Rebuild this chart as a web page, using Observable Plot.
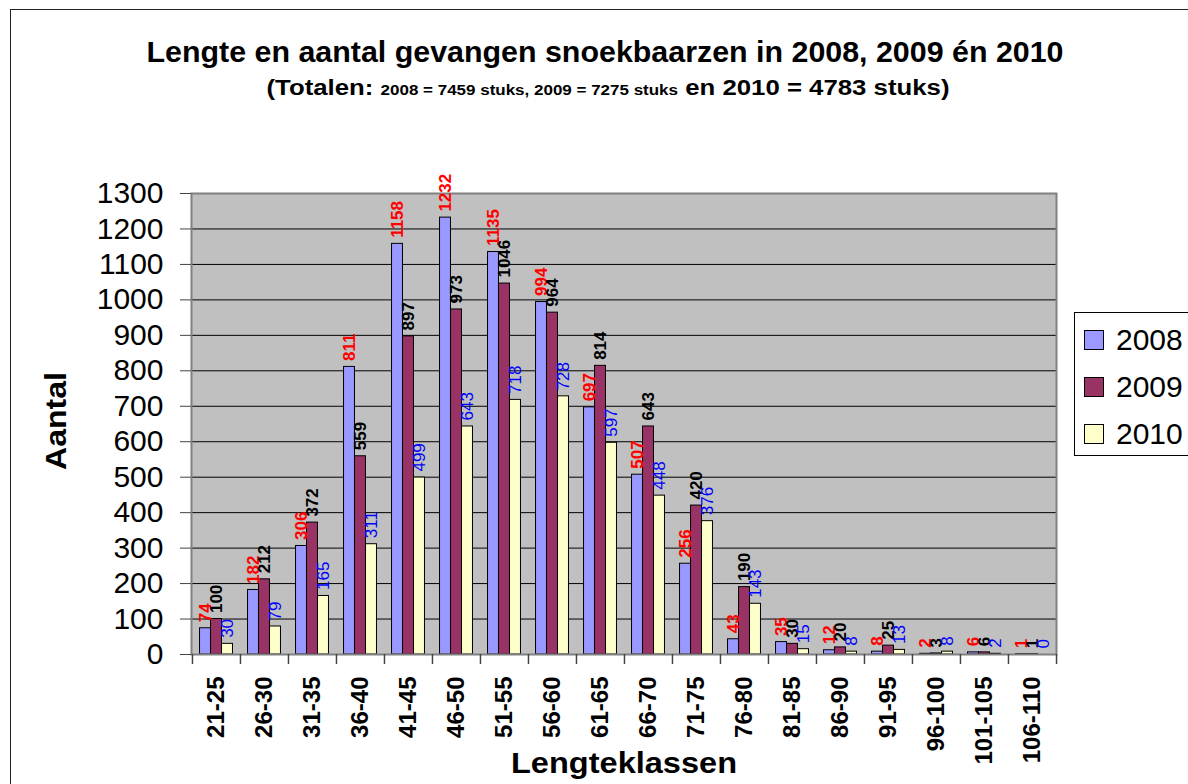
<!DOCTYPE html>
<html><head><meta charset="utf-8">
<script src="https://cdn.jsdelivr.net/npm/d3@7"></script>
<script src="https://cdn.jsdelivr.net/npm/@observablehq/plot@0.6"></script>
<style>
body{margin:0;background:#fff;font-family:"Liberation Sans",Arial,sans-serif;}
#wrap{position:relative;width:1188px;height:784px;overflow:hidden;background:#fff;}
#border{position:absolute;left:10px;top:9px;width:1300px;height:900px;border:1px solid #222;pointer-events:none;}
#chart{position:absolute;left:0;top:0;}
.t{position:absolute;white-space:nowrap;font-weight:bold;color:#000;display:inline-block;transform-origin:center;}
#legend{position:absolute;left:1074px;top:312px;width:200px;height:142px;border:1px solid #000;background:#fff;}
.item{position:absolute;left:9px;height:30px;display:flex;align-items:center;font-size:30px;line-height:30px;}
.sw{width:20px;height:20px;border:1px solid #000;box-sizing:border-box;margin-right:12px;}
</style></head><body>
<div id="wrap">
<div id="chart"></div>
<div class="t" id="title" style="font-size:30px;line-height:30px;top:37px;left:605px;">Lengte en aantal gevangen snoekbaarzen in 2008, 2009 én 2010</div>
<div class="t" id="subtitle" style="font-size:22px;line-height:22px;top:77px;left:608px;">(Totalen: <span style="font-size:14.5px">2008 = 7459 stuks, 2009 = 7275 stuks</span> en 2010 = 4783 stuks)</div>
<div class="t" id="xlabel" style="font-size:30px;line-height:30px;top:748px;left:624px;">Lengteklassen</div>
<div class="t" id="ylabel" style="font-size:30px;line-height:30px;top:406px;left:56px;">Aantal</div>
<div id="legend"></div>
<div id="border"></div>
</div>
<script>
// ---- data ----
const categories = ["21-25","26-30","31-35","36-40","41-45","46-50","51-55","56-60","61-65","66-70","71-75","76-80","81-85","86-90","91-95","96-100","101-105","106-110"];
const seriesNames = ["2008","2009","2010"];
const values2008 = [74,182,306,811,1158,1232,1135,994,697,507,256,43,35,12,8,2,6,1];
const values2009 = [100,212,372,559,897,973,1046,964,814,643,420,190,30,20,25,3,6,1];
const values2010 = [30,79,165,311,499,643,718,728,597,448,376,143,15,8,13,8,2,0];
const yTicks = [0,100,200,300,400,500,600,700,800,900,1000,1100,1200,1300];
const barColors = ["#9999FF","#993366","#FFFFCC"];
const labelColors = ["#FF0000","#000000","#0000FF"];
const labelWeights = ["bold","bold","normal"];

// ---- layout ----
const W = 1188, H = 784, mL = 191, mR = 132, mT = 193, mB = 130;
const bw = (W - mL - mR) / categories.length;
const barW = 11;
const outer = (bw - 3 * barW) / 2;

const allValues = [values2008, values2009, values2010];
const rows = seriesNames.map((s, k) => categories.map((c, i) => ({cat: c, series: s, value: allValues[k][i]})));

const barMarks = rows.map((r, k) => Plot.barY(r, {
  x: "cat", y: "value",
  fill: barColors[k], stroke: "#000", strokeWidth: 1,
  insetLeft: outer + k * barW, insetRight: bw - outer - (k + 1) * barW
}));
const labelMarks = rows.map((r, k) => Plot.text(r, {
  x: "cat", y: "value", text: d => String(d.value),
  rotate: -90, textAnchor: "start", lineAnchor: "middle",
  dx: (k - 1) * barW, dy: -6,
  fill: labelColors[k], fontSize: 17, fontWeight: labelWeights[k]
}));

const chart = Plot.plot({
  width: W, height: H,
  marginLeft: mL, marginRight: mR, marginTop: mT, marginBottom: mB,
  style: {fontFamily: "'Liberation Sans', Arial, sans-serif", background: "transparent", overflow: "visible", color: "#000"},
  x: {type: "band", domain: categories, padding: 0, axis: null},
  y: {domain: [0, 1300], axis: null},
  marks: [
    Plot.frame({fill: "#C0C0C0", stroke: null}),
    Plot.gridY(yTicks, {stroke: "#000", strokeOpacity: 1, strokeWidth: 1}),
    ...barMarks,
    Plot.frame({stroke: "#808080", strokeWidth: 2}),
    Plot.ruleX(categories, {x: d => d, dx: -bw / 2, insetTop: H - mT - mB, insetBottom: -10, stroke: "#444", strokeWidth: 1.5}),
    Plot.ruleX([categories[categories.length - 1]], {x: d => d, dx: bw / 2, insetTop: H - mT - mB, insetBottom: -10, stroke: "#444", strokeWidth: 1.5}),
    Plot.axisY(yTicks, {tickSize: 11, tickPadding: 17, fontSize: 30, label: null, stroke: "#444", tickFormat: d => String(d)}),
    Plot.axisX({tickSize: 0, tickRotate: -90, tickPadding: 22, fontSize: 24, fontWeight: "bold", label: null}),
    ...labelMarks
  ]
});
document.getElementById("chart").appendChild(chart);

// ---- legend ----
const legend = document.getElementById("legend");
const centers = [339, 386, 433];
seriesNames.forEach((s, k) => {
  const it = document.createElement("div");
  it.className = "item";
  it.style.top = (centers[k] - 312 - 15) + "px";
  const sw = document.createElement("div");
  sw.className = "sw";
  sw.style.background = barColors[k];
  it.appendChild(sw);
  const tx = document.createElement("span");
  tx.textContent = s;
  it.appendChild(tx);
  legend.appendChild(it);
});

// ---- fit titles to reference widths ----
function fit(id, target, rot) {
  const el = document.getElementById(id);
  const w = el.getBoundingClientRect().width;
  const s = target / w;
  el.style.transform = "translateX(-50%) " + (rot ? "rotate(-90deg) " : "") + "scaleX(" + s + ")";
}
fit("title", 917);
fit("subtitle", 683);
fit("xlabel", 226);
fit("ylabel", 98, true);
</script>
</body></html>
